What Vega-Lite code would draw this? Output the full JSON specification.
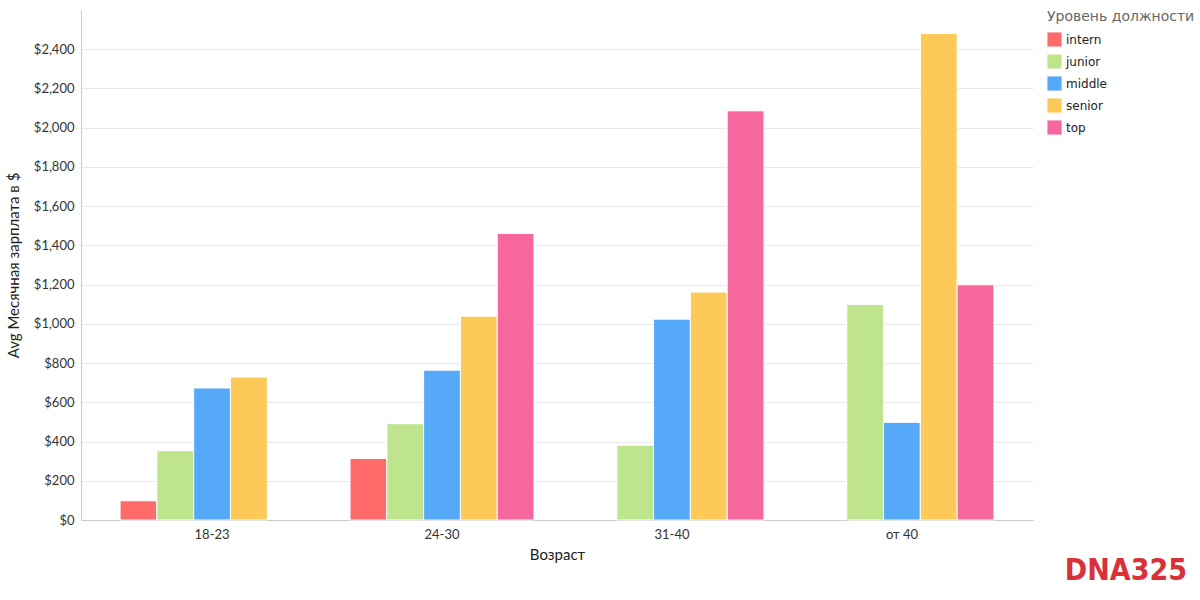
{
  "$schema": "https://vega.github.io/schema/vega-lite/v6.json",
  "width": 952,
  "height": 510,
  "padding": {"left": 6, "top": 10, "right": 5, "bottom": 5},
  "background": "white",
  "data": {
    "values": [
      {"age": "18-23", "level": "intern", "salary": 98},
      {"age": "18-23", "level": "junior", "salary": 353},
      {"age": "18-23", "level": "middle", "salary": 673},
      {"age": "18-23", "level": "senior", "salary": 729},
      {"age": "24-30", "level": "intern", "salary": 314},
      {"age": "24-30", "level": "junior", "salary": 491},
      {"age": "24-30", "level": "middle", "salary": 764},
      {"age": "24-30", "level": "senior", "salary": 1039},
      {"age": "24-30", "level": "top", "salary": 1461},
      {"age": "31-40", "level": "junior", "salary": 381},
      {"age": "31-40", "level": "middle", "salary": 1024},
      {"age": "31-40", "level": "senior", "salary": 1162},
      {"age": "31-40", "level": "top", "salary": 2086},
      {"age": "от 40", "level": "junior", "salary": 1099},
      {"age": "от 40", "level": "middle", "salary": 498},
      {"age": "от 40", "level": "senior", "salary": 2480},
      {"age": "от 40", "level": "top", "salary": 1199}
    ]
  },
  "title": {
    "text": "DNA325",
    "orient": "bottom",
    "anchor": "end",
    "frame": "bounds",
    "font": "DejaVu Sans Condensed, DejaVu Sans",
    "fontSize": 30,
    "fontWeight": "bold",
    "color": "#d9313a",
    "offset": -6,
    "dx": -8
  },
  "mark": {"type": "bar", "stroke": "white", "strokeWidth": 1},
  "encoding": {
    "x": {
      "field": "age",
      "type": "nominal",
      "title": "Возраст",
      "sort": ["18-23", "24-30", "31-40", "от 40"],
      "scale": {"paddingInner": 0.2, "paddingOuter": 0.17},
      "axis": {
        "labelAngle": 0,
        "ticks": false,
        "domainColor": "#cccccc",
        "labelFont": "Lato",
        "labelFontSize": 13,
        "labelColor": "#333333",
        "labelPadding": 8,
        "titleFont": "Lato",
        "titleFontSize": 15,
        "titleFontWeight": "normal",
        "titleColor": "#222222",
        "titlePadding": 6
      }
    },
    "xOffset": {
      "field": "level",
      "type": "nominal",
      "scale": {"domain": ["intern", "junior", "middle", "senior", "top"], "paddingInner": 0}
    },
    "y": {
      "field": "salary",
      "type": "quantitative",
      "title": "Avg Месячная зарплата в $",
      "scale": {"domain": [0, 2600], "nice": false},
      "axis": {
        "values": [0, 200, 400, 600, 800, 1000, 1200, 1400, 1600, 1800, 2000, 2200, 2400],
        "format": "$,.0f",
        "ticks": false,
        "domainColor": "#cccccc",
        "gridColor": "#e8e8e8",
        "labelFont": "Lato",
        "labelFontSize": 13,
        "labelColor": "#333333",
        "labelPadding": 7,
        "titleFont": "Lato",
        "titleFontSize": 15,
        "titleFontWeight": "normal",
        "titleColor": "#222222",
        "titlePadding": 12
      }
    },
    "color": {
      "field": "level",
      "type": "nominal",
      "title": "Уровень должности",
      "scale": {
        "domain": ["intern", "junior", "middle", "senior", "top"],
        "range": ["#ff6b6b", "#bee58e", "#56a8f8", "#fdca59", "#f5679d"]
      },
      "legend": {
        "symbolType": "square",
        "symbolSize": 200,
        "symbolStrokeWidth": 0,
        "offset": 14,
        "rowPadding": 7,
        "titleFont": "DejaVu Sans",
        "titleFontSize": 14,
        "titleFontWeight": "normal",
        "titleColor": "#666666",
        "titlePadding": 8,
        "labelFont": "DejaVu Sans",
        "labelFontSize": 12,
        "labelColor": "#222222"
      }
    }
  },
  "config": {"view": {"stroke": null}}
}
